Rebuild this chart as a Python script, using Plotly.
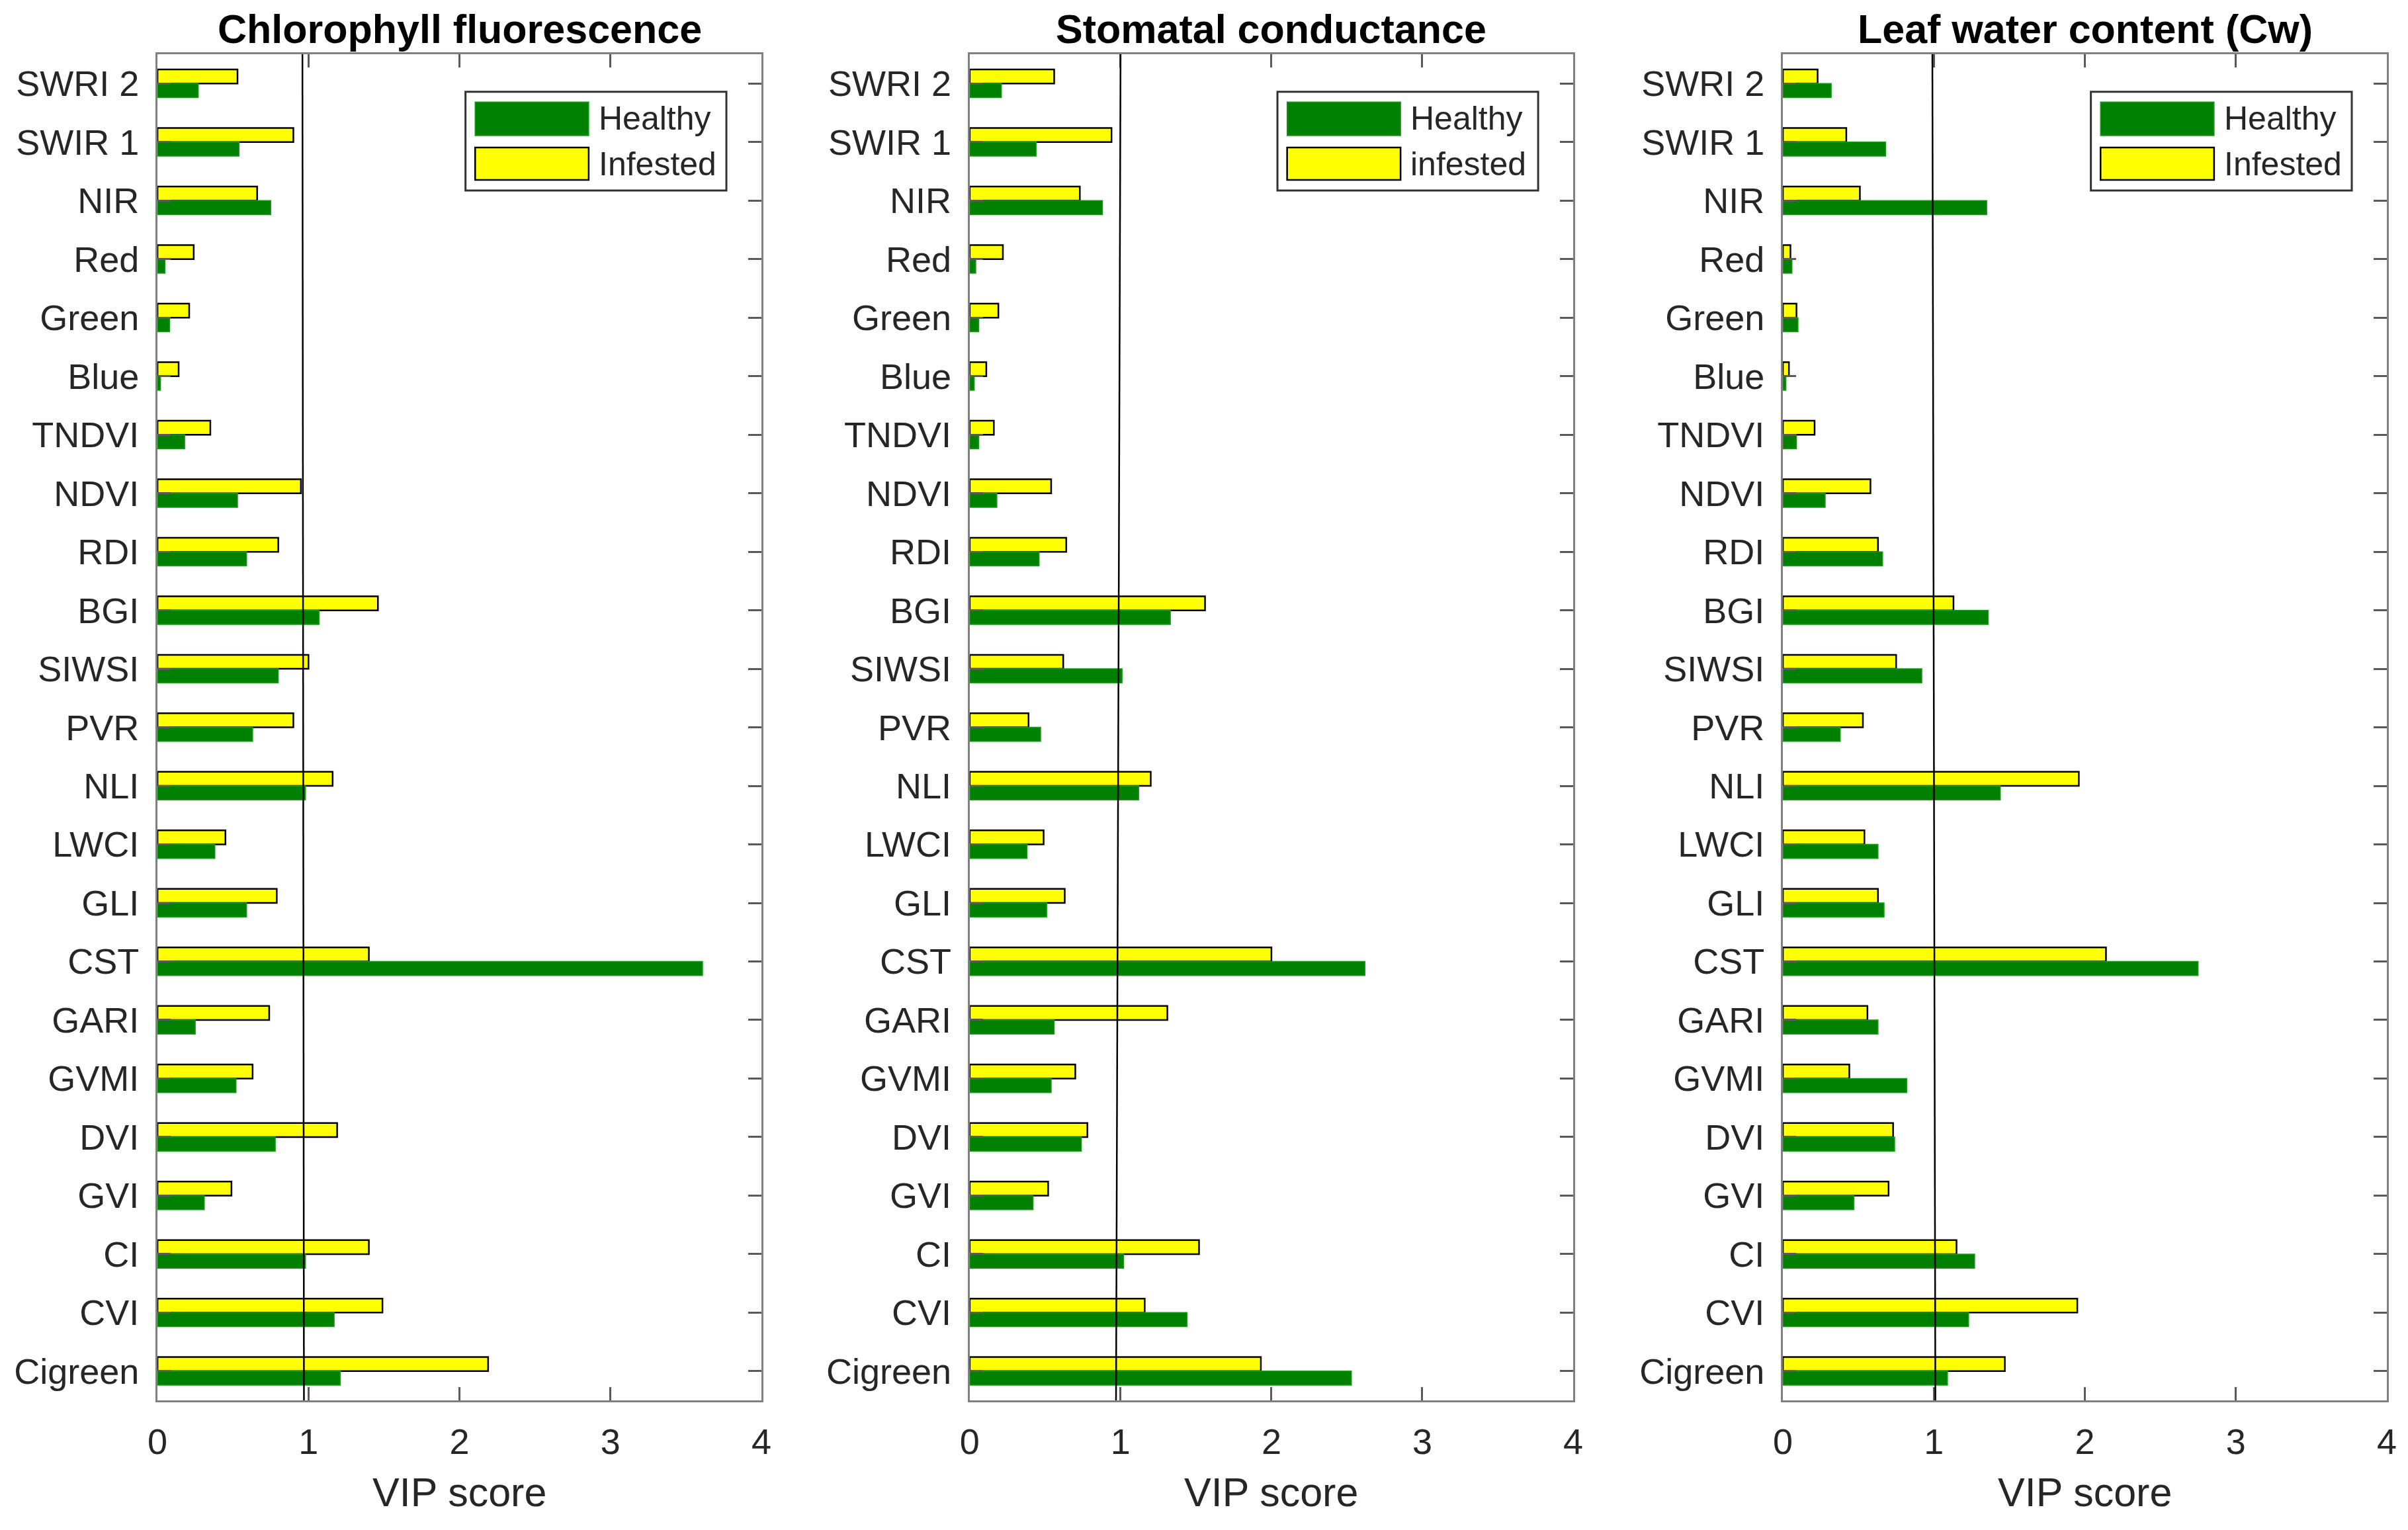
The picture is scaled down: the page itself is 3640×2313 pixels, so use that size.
import plotly.graph_objects as go

categories = ["SWRI 2", "SWIR 1", "NIR", "Red", "Green", "Blue", "TNDVI", "NDVI",
              "RDI", "BGI", "SIWSI", "PVR", "NLI", "LWCI", "GLI", "CST", "GARI",
              "GVMI", "DVI", "GVI", "CI", "CVI", "Cigreen"]

titles = ["Chlorophyll fluorescence", "Stomatal conductance", "Leaf water content (Cw)"]
infested_labels = ["Infested", "infested", "Infested"]

chl_healthy = [0.27, 0.54, 0.75, 0.05, 0.08, 0.02, 0.18, 0.53, 0.59, 1.07, 0.80, 0.63,
               0.98, 0.38, 0.59, 3.61, 0.25, 0.52, 0.78, 0.31, 0.98, 1.17, 1.21]
chl_infested = [0.53, 0.90, 0.66, 0.24, 0.21, 0.14, 0.35, 0.95, 0.80, 1.46, 1.00, 0.90,
                1.16, 0.45, 0.79, 1.40, 0.74, 0.63, 1.19, 0.49, 1.40, 1.49, 2.19]

sto_healthy = [0.21, 0.44, 0.88, 0.04, 0.06, 0.03, 0.06, 0.18, 0.46, 1.33, 1.01, 0.47,
               1.12, 0.38, 0.51, 2.62, 0.56, 0.54, 0.74, 0.42, 1.02, 1.44, 2.53]
sto_infested = [0.56, 0.94, 0.73, 0.22, 0.19, 0.11, 0.16, 0.54, 0.64, 1.56, 0.62, 0.39,
                1.20, 0.49, 0.63, 2.00, 1.31, 0.70, 0.78, 0.52, 1.52, 1.16, 1.93]

cw_healthy = [0.32, 0.68, 1.35, 0.06, 0.10, 0.02, 0.09, 0.28, 0.66, 1.36, 0.92, 0.38,
              1.44, 0.63, 0.67, 2.75, 0.63, 0.82, 0.74, 0.47, 1.27, 1.23, 1.09]
cw_infested = [0.23, 0.42, 0.51, 0.05, 0.09, 0.04, 0.21, 0.58, 0.63, 1.13, 0.75, 0.53,
               1.96, 0.54, 0.63, 2.14, 0.56, 0.44, 0.73, 0.70, 1.15, 1.95, 1.47]

healthy_sets = [chl_healthy, sto_healthy, cw_healthy]
infested_sets = [chl_infested, sto_infested, cw_infested]

# threshold line (VIP = 1) as drawn: value at top and at bottom of the axes
thr_top = [0.96, 1.00, 0.99]
thr_bottom = [0.97, 0.97, 1.01]

x_ticks = [0, 1, 2, 3, 4]

GREEN = "#008000"
YELLOW = "#FFFF00"
AXIS_GRAY = "#808080"
TEXT = "#262626"
FONT = "Liberation Sans, Arial, sans-serif"

x_domains = [[0.0654, 0.3162], [0.4027, 0.6533], [0.7404, 0.9912]]
y_domain = [0.0847, 0.9645]

fig = go.Figure()
shapes = []
annotations = []

for i in range(3):
    sfx = "" if i == 0 else str(i + 1)
    xa, ya = "x" + sfx, "y" + sfx
    fig.add_trace(go.Bar(
        y=categories, x=infested_sets[i], orientation="h", name=infested_labels[i],
        marker=dict(color=YELLOW, line=dict(color="black", width=2.5)),
        xaxis=xa, yaxis=ya, showlegend=False))
    fig.add_trace(go.Bar(
        y=categories, x=healthy_sets[i], orientation="h", name="Healthy",
        marker=dict(color=GREEN, line=dict(color="#1a9a1a", width=1.5)),
        xaxis=xa, yaxis=ya, showlegend=False))

    axis_common = dict(
        showline=True, linecolor=AXIS_GRAY, linewidth=3, mirror="ticks",
        ticks="inside", ticklen=20, tickwidth=2.5, tickcolor="#5a5a5a",
        showgrid=False, zeroline=False, automargin=False,
        tickfont=dict(family=FONT, size=54, color=TEXT),
    )
    fig.update_layout(**{
        "xaxis" + sfx: dict(domain=x_domains[i], range=[0, 4], tickvals=x_ticks,
                            anchor=ya, ticklabelstandoff=13, **axis_common),
        "yaxis" + sfx: dict(domain=y_domain, type="category", range=[22.5, -0.5],
                            anchor=xa, ticklabelstandoff=14, **axis_common),
    })

    # threshold line
    shapes.append(dict(type="line", xref=xa, yref=ya + " domain",
                       x0=thr_bottom[i], x1=thr_top[i], y0=0, y1=1,
                       line=dict(color="black", width=2.5), layer="above"))

    # legend (manual, large swatches)
    xd, yd = xa + " domain", ya + " domain"
    shapes.append(dict(type="rect", xref=xd, yref=yd, x0=0.51, x1=0.942,
                       y0=0.8988, y1=0.9722, fillcolor="white",
                       line=dict(color="#333333", width=3), layer="above"))
    shapes.append(dict(type="rect", xref=xd, yref=yd, x0=0.526, x1=0.714,
                       y0=0.9396, y1=0.9646, fillcolor=GREEN,
                       line=dict(color="#1a9a1a", width=1.5), layer="above"))
    shapes.append(dict(type="rect", xref=xd, yref=yd, x0=0.526, x1=0.714,
                       y0=0.9067, y1=0.9308, fillcolor=YELLOW,
                       line=dict(color="black", width=2.5), layer="above"))
    annotations.append(dict(xref=xd, yref=yd, x=0.728, y=0.9524, xanchor="left",
                            yanchor="middle", text="Healthy", showarrow=False,
                            font=dict(family=FONT, size=50, color=TEXT)))
    annotations.append(dict(xref=xd, yref=yd, x=0.728, y=0.9185, xanchor="left",
                            yanchor="middle", text=infested_labels[i], showarrow=False,
                            font=dict(family=FONT, size=50, color=TEXT)))

    # panel title
    annotations.append(dict(xref=xd, yref=yd, x=0.5, y=1.0, xanchor="center",
                            yanchor="bottom", yshift=2, text="<b>" + titles[i] + "</b>",
                            showarrow=False,
                            font=dict(family=FONT, size=61, color="black")))
    # x-axis title
    annotations.append(dict(xref=xd, yref="paper", x=0.5, y=0.0246, xanchor="center",
                            yanchor="middle", text="VIP score", showarrow=False,
                            font=dict(family=FONT, size=61, color=TEXT)))

fig.update_layout(
    width=3640, height=2313,
    margin=dict(l=0, r=0, t=0, b=0),
    paper_bgcolor="white", plot_bgcolor="white",
    barmode="group", bargap=0.52, bargroupgap=0.0,
    shapes=shapes, annotations=annotations,
    font=dict(family=FONT, color=TEXT),
)

fig.write_html("out.html",
               config={"displayModeBar": False},
               post_script="document.body.style.margin='0px';"
                           "document.body.style.overflow='hidden';")
